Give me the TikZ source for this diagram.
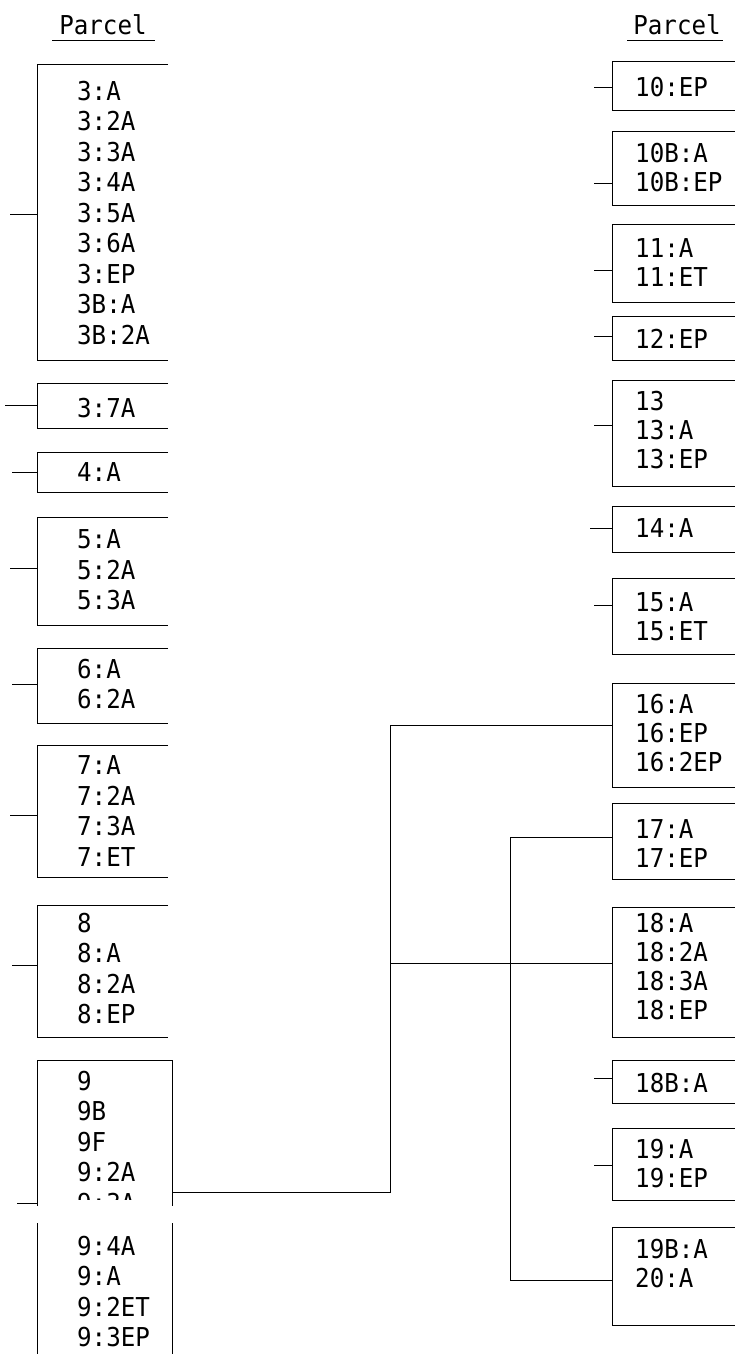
\documentclass[tikz,border=0pt]{standalone}
\usepackage{fontspec}
\setmonofont{DejaVu Sans Mono}
\usepackage{tikz}

\begin{document}
\begin{tikzpicture}[x=1pt,y=1pt]
\tikzstyle{every node}+=[inner sep=0pt]
\tikzstyle{lcol}=[anchor=north west, align=left, xscale=0.93, font=\ttfamily\fontsize{26}{30.5}\selectfont]
\tikzstyle{rcol}=[anchor=north west, align=left, xscale=0.93, font=\ttfamily\fontsize{26}{29}\selectfont]
\tikzstyle{head}=[xscale=0.93, font=\ttfamily\fontsize{26}{26}\selectfont]
\tikzstyle{rule}=[black, line width=1pt]
\useasboundingbox (0,0) rectangle (735,-1354);
% headings
\node [head] (hleft) at (103,-25) {Parcel};
\draw [rule] (52,-41) -- (155,-41);
\node [head] (hright) at (677,-25) {Parcel};
\draw [rule] (627,-41) -- (723,-41);
% left column
\node [lcol] (p3) at (77,-80.5) {3:A\\3:2A\\3:3A\\3:4A\\3:5A\\3:6A\\3:EP\\3B:A\\3B:2A};
\draw [rule] (168,-65) -- (37,-65) -- (37,-360) -- (168,-360);
\draw [rule] (10,-214) -- (37,-214);
\node [lcol] (p3s) at (77,-397.5) {3:7A};
\draw [rule] (168,-383) -- (37,-383) -- (37,-428) -- (168,-428);
\draw [rule] (5,-405) -- (37,-405);
\node [lcol] (p4) at (77,-462.5) {4:A};
\draw [rule] (168,-452) -- (37,-452) -- (37,-492) -- (168,-492);
\draw [rule] (12,-472) -- (37,-472);
\node [lcol] (p5) at (77,-529.5) {5:A\\5:2A\\5:3A};
\draw [rule] (168,-517) -- (37,-517) -- (37,-625) -- (168,-625);
\draw [rule] (10,-568) -- (37,-568);
\node [lcol] (p6) at (77,-658.5) {6:A\\6:2A};
\draw [rule] (168,-648) -- (37,-648) -- (37,-723) -- (168,-723);
\draw [rule] (12,-684) -- (37,-684);
\node [lcol] (p7) at (77,-755.5) {7:A\\7:2A\\7:3A\\7:ET};
\draw [rule] (168,-745) -- (37,-745) -- (37,-877) -- (168,-877);
\draw [rule] (10,-815) -- (37,-815);
\node [lcol] (p8) at (77,-912.5) {8\\8:A\\8:2A\\8:EP};
\draw [rule] (168,-905) -- (37,-905) -- (37,-1037) -- (168,-1037);
\draw [rule] (12,-965) -- (37,-965);
\begin{scope}
\clip (0,-1058) rectangle (735,-1199);
\node [lcol] (p9) at (77,-1070.5) {9\\9B\\9F\\9:2A\\9:3A};
\end{scope}
\draw [rule] (37,-1206) -- (37,-1060) -- (172,-1060) -- (172,-1206);
\draw [rule] (17,-1203) -- (37,-1203);
\node [lcol] (p9b) at (77,-1235.5) {9:4A\\9:A\\9:2ET\\9:3EP};
\draw [rule] (37,-1223) -- (37,-1354);
\draw [rule] (172,-1223) -- (172,-1354);
% right column
\node [rcol] (p10) at (635,-77.5) {10:EP};
\draw [rule] (735,-62) -- (612,-62) -- (612,-110) -- (735,-110);
\draw [rule] (594,-87) -- (612,-87);
\node [rcol] (p10b) at (635,-143.5) {10B:A\\10B:EP};
\draw [rule] (735,-131) -- (612,-131) -- (612,-205) -- (735,-205);
\draw [rule] (594,-183) -- (612,-183);
\node [rcol] (p11) at (635,-238.5) {11:A\\11:ET};
\draw [rule] (735,-224) -- (612,-224) -- (612,-302) -- (735,-302);
\draw [rule] (594,-270) -- (612,-270);
\node [rcol] (p12) at (635,-328.5) {12:EP};
\draw [rule] (735,-316) -- (612,-316) -- (612,-360) -- (735,-360);
\draw [rule] (594,-336) -- (612,-336);
\node [rcol] (p13) at (635,-390.5) {13\\13:A\\13:EP};
\draw [rule] (735,-380) -- (612,-380) -- (612,-486) -- (735,-486);
\draw [rule] (594,-425) -- (612,-425);
\node [rcol] (p14) at (635,-518.5) {14:A};
\draw [rule] (735,-506) -- (612,-506) -- (612,-552) -- (735,-552);
\draw [rule] (590,-528) -- (612,-528);
\node [rcol] (p15) at (635,-592.5) {15:A\\15:ET};
\draw [rule] (735,-578) -- (612,-578) -- (612,-654) -- (735,-654);
\draw [rule] (594,-605) -- (612,-605);
\node [rcol] (p16) at (635,-693.5) {16:A\\16:EP\\16:2EP};
\draw [rule] (735,-683) -- (612,-683) -- (612,-787) -- (735,-787);
\node [rcol] (p17) at (635,-819.5) {17:A\\17:EP};
\draw [rule] (735,-803) -- (612,-803) -- (612,-879) -- (735,-879);
\node [rcol] (p18) at (635,-912.5) {18:A\\18:2A\\18:3A\\18:EP};
\draw [rule] (735,-907) -- (612,-907) -- (612,-1037) -- (735,-1037);
\node [rcol] (p18b) at (635,-1072.5) {18B:A};
\draw [rule] (735,-1060) -- (612,-1060) -- (612,-1103) -- (735,-1103);
\draw [rule] (594,-1078) -- (612,-1078);
\node [rcol] (p19) at (635,-1138.5) {19:A\\19:EP};
\draw [rule] (735,-1128) -- (612,-1128) -- (612,-1200) -- (735,-1200);
\draw [rule] (594,-1165) -- (612,-1165);
\node [rcol] (p19b) at (635,-1238.5) {19B:A\\20:A};
\draw [rule] (735,-1227) -- (612,-1227) -- (612,-1325) -- (735,-1325);
% links
\coordinate (c9) at (172,-1192);
\coordinate (b16) at (612,-725);
\coordinate (b17) at (612,-837);
\coordinate (b18) at (612,-963);
\coordinate (b19b) at (612,-1280);
\coordinate (j18) at (390,-963);
\draw [rule] (c9) -- (390,-1192) |- (b16);
\draw [rule] (j18) -- (b18);
\draw [rule] (b17) -- (510,-837) |- (b19b);
\end{tikzpicture}
\end{document}
